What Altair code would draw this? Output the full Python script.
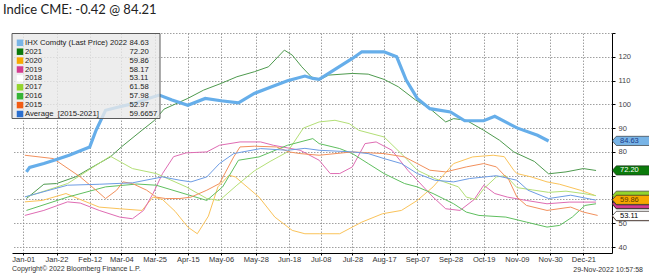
import altair as alt
import pandas as pd

TITLE = "Indice CME: -0.42 @ 84.21"
FOOTER = "Copyright\u00a9 2022 Bloomberg Finance L.P."
STAMP = "29-Nov-2022 10:57:58"

X_TICKS = ["Jan-01", "Jan-22", "Feb-12", "Mar-04", "Mar-25", "Apr-15", "May-06", "May-28",
           "Jun-18", "Jul-08", "Jul-28", "Aug-17", "Sep-07", "Sep-28", "Oct-19", "Nov-09",
           "Nov-30", "Dec-21"]
Y_TICKS = [40, 50, 60, 70, 80, 90, 100, 110, 120, 130]

D2022 = ["Jan-03", "Jan-05", "Jan-14", "Jan-22", "Jan-30", "Feb-12", "Feb-16", "Feb-22",
         "Mar-01", "Mar-12", "Mar-21", "Mar-28", "Apr-05", "Apr-15", "Apr-26", "May-06",
         "May-17", "May-27", "Jun-07", "Jun-17", "Jun-28", "Jul-03", "Jul-07", "Jul-13",
         "Jul-28", "Aug-03", "Aug-17", "Aug-25", "Aug-31", "Sep-07", "Sep-15", "Sep-28",
         "Oct-07", "Oct-19", "Oct-26", "Nov-09", "Nov-22", "Nov-29"]
S2022 = [71.6, 73.5, 75.1, 76.8, 78.6, 82.1, 89.1, 97.5, 98.7, 100.4, 102.5, 103.9, 101.8,
         99.6, 102.5, 101.5, 100.6, 104.6, 107.4, 109.9, 111.9, 110.9, 110.5, 113.0, 119.3,
         122.1, 122.1, 120.0, 110.2, 102.5, 98.2, 96.8, 93.1, 93.1, 95.0, 90.1, 87.0, 84.6]

D2021 = ["Jan-03", "Jan-14", "Jan-22", "Feb-03", "Feb-12", "Feb-25", "Mar-04", "Mar-17",
         "Mar-25", "Mar-31", "Apr-15", "Apr-25", "May-06", "May-16", "May-27", "Jun-05",
         "Jun-11", "Jun-15", "Jun-20", "Jun-26", "Jul-02", "Jul-07", "Jul-13", "Jul-28",
         "Aug-07", "Aug-17", "Aug-26", "Sep-06", "Sep-15", "Sep-25", "Sep-30", "Oct-08",
         "Oct-19", "Oct-29", "Nov-07", "Nov-20", "Nov-29", "Dec-10", "Dec-21", "Dec-29"]
S2021 = [60.4, 66.4, 66.7, 69.5, 73.0, 77.9, 82.1, 89.1, 93.3, 98.0, 102.5, 106.0, 108.8,
         111.6, 113.7, 115.8, 120.0, 122.8, 120.7, 115.8, 111.6, 110.2, 112.3, 113.0, 112.7,
         110.5, 107.4, 101.8, 98.2, 92.6, 94.0, 93.3, 89.1, 84.9, 80.0, 76.0, 70.8, 71.6,
         73.0, 72.2]

D2020 = ["Jan-02", "Jan-13", "Jan-28", "Feb-06", "Feb-18", "Mar-03", "Mar-17", "Mar-24",
         "Mar-30", "Apr-07", "Apr-15", "Apr-21", "Apr-28", "May-04", "May-11", "May-15",
         "May-30", "Jun-09", "Jun-20", "Jun-28", "Jul-07", "Jul-20", "Jul-28", "Aug-03",
         "Aug-16", "Aug-28", "Sep-07", "Sep-17", "Sep-30", "Oct-12", "Oct-25", "Nov-01",
         "Nov-07", "Nov-09", "Nov-18", "Nov-28", "Dec-06", "Dec-19", "Dec-28"]
S2020 = [59.0, 59.6, 62.5, 60.0, 56.8, 56.1, 55.4, 61.0, 60.0, 55.0, 48.4, 45.6, 53.0, 65.3,
         70.2, 69.5, 61.0, 52.6, 47.0, 45.6, 45.6, 45.6, 48.4, 50.5, 54.0, 55.4, 59.6, 65.3,
         75.1, 77.9, 78.6, 78.0, 72.3, 70.9, 69.5, 67.4, 66.4, 63.9, 61.8]

D2019 = ["Jan-02", "Jan-14", "Jan-29", "Feb-06", "Feb-18", "Mar-03", "Mar-11", "Mar-18",
         "Mar-24", "Mar-30", "Apr-06", "Apr-14", "Apr-27", "May-05", "May-18", "May-31",
         "Jun-08", "Jun-25", "Jul-07", "Jul-14", "Jul-20", "Jul-28", "Aug-05", "Aug-12",
         "Aug-22", "Sep-01", "Sep-07", "Sep-17", "Sep-25", "Oct-04", "Oct-13", "Oct-19",
         "Oct-26", "Nov-03", "Nov-15", "Nov-28", "Dec-12", "Dec-29"]
S2019 = [53.3, 55.4, 59.0, 58.5, 55.4, 52.6, 51.9, 55.4, 62.5, 70.9, 78.0, 79.6, 80.0, 82.8,
         84.2, 84.2, 82.8, 80.7, 76.5, 70.9, 70.9, 73.7, 83.5, 84.2, 80.7, 72.3, 68.1, 61.0,
         56.1, 55.4, 60.0, 66.0, 62.5, 61.0, 59.6, 58.2, 58.9, 58.9]

D2017 = ["Jan-03", "Jan-29", "Feb-25", "Mar-11", "Mar-26", "Apr-14", "Apr-27", "May-05",
         "May-16", "May-27", "Jun-06", "Jun-17", "Jun-27", "Jul-07", "Jul-17", "Jul-26",
         "Aug-01", "Aug-17", "Aug-30", "Sep-07", "Sep-18", "Oct-03", "Oct-08", "Oct-14",
         "Oct-19", "Oct-27", "Nov-02", "Nov-09", "Nov-19", "Nov-29", "Dec-10", "Dec-21",
         "Dec-29"]
S2017 = [61.1, 66.7, 78.2, 73.0, 70.9, 65.3, 60.4, 59.6, 66.0, 72.0, 76.0, 80.0, 90.0, 92.6,
         93.3, 91.9, 89.1, 86.3, 77.9, 72.3, 68.8, 65.3, 61.0, 60.0, 64.5, 69.5, 70.0, 65.0,
         64.0, 63.0, 63.5, 62.5, 61.6]

D2016 = ["Jan-03", "Jan-29", "Feb-22", "Mar-14", "Mar-26", "Apr-15", "Apr-27", "May-07",
         "May-17", "May-30", "Jun-17", "Jul-03", "Jul-07", "Jul-20", "Jul-28", "Aug-07",
         "Aug-17", "Aug-30", "Sep-07", "Sep-17", "Sep-30", "Oct-08", "Oct-16", "Nov-02",
         "Nov-15", "Nov-28", "Dec-06", "Dec-14", "Dec-22", "Dec-29"]
S2016 = [55.4, 61.0, 65.3, 66.5, 66.0, 62.0, 59.6, 65.3, 76.5, 77.9, 82.8, 85.6, 83.5, 81.4,
         79.3, 75.1, 70.9, 66.7, 65.3, 62.5, 58.2, 54.7, 53.3, 52.6, 50.5, 48.4, 49.1, 52.6,
         57.5, 58.2]

D2015 = ["Jan-02", "Jan-20", "Feb-06", "Feb-16", "Feb-22", "Mar-01", "Mar-05", "Mar-11",
         "Mar-20", "Mar-26", "Apr-01", "Apr-10", "Apr-17", "Apr-27", "May-05", "May-14",
         "May-18", "May-27", "Jun-10", "Jun-18", "Jun-25", "Jul-07", "Jul-28", "Aug-17",
         "Aug-30", "Sep-07", "Sep-15", "Sep-25", "Oct-08", "Oct-19", "Oct-27", "Nov-04",
         "Nov-09", "Nov-15", "Nov-28", "Dec-13", "Dec-21", "Dec-30"]
S2015 = [78.6, 77.2, 69.5, 63.9, 60.4, 63.9, 67.4, 66.7, 63.9, 61.0, 60.4, 60.4, 61.0, 63.9,
         66.7, 77.9, 82.1, 82.4, 82.1, 80.0, 79.3, 78.6, 80.0, 79.3, 77.9, 75.1, 72.3, 71.6,
         73.7, 75.1, 73.7, 68.1, 61.0, 57.5, 55.4, 56.8, 54.7, 53.3]

DAVG = ["Jan-02", "Jan-29", "Feb-18", "Mar-11", "Mar-30", "Apr-10", "Apr-17", "Apr-27",
        "May-05", "May-14", "May-31", "Jun-17", "Jun-28", "Jul-07", "Jul-28", "Aug-07",
        "Aug-17", "Aug-28", "Sep-07", "Sep-18", "Sep-30", "Oct-10", "Oct-20", "Oct-27",
        "Nov-09", "Nov-16", "Nov-29", "Dec-13", "Dec-29"]
SAVG = [61.1, 66.0, 66.4, 67.0, 69.5, 68.1, 67.4, 69.5, 75.1, 79.3, 81.4, 80.7, 81.5, 80.7,
        80.0, 79.3, 77.2, 75.1, 70.9, 68.1, 67.4, 68.8, 69.5, 70.0, 68.1, 63.9, 60.4, 61.8,
        59.7]

KEYS = ["2022", "2021", "2020", "2019", "2018", "2017", "2016", "2015", "Average"]
LEGEND_LABELS = ["IHX Comdty (Last Price) 2022", "2021", "2020", "2019", "2018", "2017",
                 "2016", "2015", "Average\u00a0\u00a0[2015-2021]"]
LEGEND_VALUES = ["84.63", "72.20", "59.86", "58.17", "53.11", "61.58", "57.98", "52.97", "59.6657"]

FILL_COLORS = ["#78b4e6", "#0b7a0b", "#f7a800", "#d43c90", "#ffffff", "#93d42d", "#36b436",
               "#f25c14", "#2b6fcf"]
LINE_COLORS = ["#66aeea", "#4e9a4e", "#fac35a", "#df6cb3", "#ffffff", "#b3df76", "#5fbf5f",
               "#f2905c", "#6d9ce4"]

SERIES = {"2021": (D2021, S2021), "2020": (D2020, S2020), "2019": (D2019, S2019),
          "2017": (D2017, S2017), "2016": (D2016, S2016), "2015": (D2015, S2015),
          "Average": (DAVG, SAVG), "2022": (D2022, S2022)}


def to_date(s):
    return pd.to_datetime("2022-" + s, format="%Y-%b-%d").strftime("%Y-%m-%dT00:00:00")


rows = []
for key, (dates, vals) in SERIES.items():
    for d, v in zip(dates, vals):
        rows.append({"date": to_date(d), "value": v, "key": key})
df = pd.DataFrame(rows)

W, H = 600, 220
FONT = "Liberation Sans"

xscale = alt.Scale(domain=[alt.DateTime(year=2021, month=12, date=24, hours=21),
                           alt.DateTime(year=2023, month=1, date=8, hours=2)])
yscale = alt.Scale(domain=[37.5, 130], nice=False, zero=False)
stroke_scale = alt.Scale(domain=KEYS, range=LINE_COLORS)
fill_scale = alt.Scale(domain=KEYS, range=FILL_COLORS)

tick_dates = [alt.DateTime(year=2022, month=t.split("-")[0], date=int(t.split("-")[1]))
              for t in X_TICKS]

xaxis = alt.Axis(values=tick_dates, format="%b-%d", labelFontSize=7.5, labelColor="#333",
                 labelFont=FONT, tickSize=2, tickColor="#000", domainColor="#000",
                 grid=True, gridColor="#888", gridDash=[1.5, 1.5], gridWidth=0.8,
                 labelPadding=0, title=None, labelFlush=False, labelOverlap=False)
yaxis = alt.Axis(orient="right", values=Y_TICKS,
                 labelExpr="(datum.value == 130 || datum.value == 60 || datum.value == 70) ? '' : datum.label",
                 labelFontSize=7.5, labelColor="#444", labelFont=FONT, tickSize=3,
                 tickColor="#000", domainColor="#000", grid=True, gridColor="#888",
                 gridDash=[1.5, 1.5], gridWidth=0.8, labelPadding=3, title=None)

X = alt.X("date:T", scale=xscale, axis=xaxis)

others = alt.Chart(df[df.key != "2022"]).mark_line(strokeWidth=1).encode(
    x=X,
    y=alt.Y("value:Q", scale=yscale, axis=yaxis),
    stroke=alt.Stroke("key:N", scale=stroke_scale, legend=None),
    detail="key:N",
)
main = alt.Chart(df[df.key == "2022"]).mark_line(strokeWidth=3.2).encode(
    x=X,
    y=alt.Y("value:Q", scale=yscale, axis=None),
    stroke=alt.Stroke("key:N", scale=stroke_scale, legend=None),
)

# legend box
box = alt.Chart(pd.DataFrame({"a": [0]})).mark_rect(
    fill="#e9e9e9", fillOpacity=0.8, stroke="#5a5a5a", strokeWidth=1
).encode(x=alt.value(0), x2=alt.value(148), y=alt.value(0.5), y2=alt.value(85.5))

leg = pd.DataFrame({"key": KEYS, "label": LEGEND_LABELS, "val": LEGEND_VALUES})
ly = alt.Y("key:N", scale=alt.Scale(type="point", domain=KEYS, range=[9.8, 81], padding=0),
           axis=None)
swatch = alt.Chart(leg).mark_point(shape="square", filled=True, size=42, opacity=1).encode(
    x=alt.value(8), y=ly, fill=alt.Fill("key:N", scale=fill_scale, legend=None))
ltext = alt.Chart(leg).mark_text(align="left", baseline="middle", fontSize=7.7, font=FONT,
                                 color="#222").encode(x=alt.value(13), y=ly, text="label:N")
lval = alt.Chart(leg).mark_text(align="left", baseline="middle", fontSize=7.7, font=FONT,
                                color="#222").encode(x=alt.value(117.5), y=ly, text="val:N")

# right-hand value tags
TAG_ORDER = ["2017", "2016", "2019", "Average", "2015", "2020", "2018", "2021", "2022"]
TAG_TEXT = {"2022": "#1b3a8a", "2021": "#ffffff", "2020": "#5a3c00", "2018": "#000000"}
tags = pd.DataFrame({
    "key": TAG_ORDER,
    "value": [float(LEGEND_VALUES[KEYS.index(k)]) for k in TAG_ORDER],
    "txt": [LEGEND_VALUES[KEYS.index(k)] for k in TAG_ORDER],
    "ord": list(range(len(TAG_ORDER))),
})
TAG_PATH = "M-1,0 L-0.8,-0.23 L1,-0.23 L1,0.23 L-0.8,0.23 Z"
tagmark = alt.Chart(tags).mark_point(shape=TAG_PATH, filled=True, size=1600, opacity=1,
                                     stroke="#222", strokeWidth=0.6).encode(
    x=alt.value(W + 20.3),
    y=alt.Y("value:Q", scale=yscale, axis=None),
    fill=alt.Fill("key:N", scale=fill_scale, legend=None),
    order="ord:Q",
)
tagtext_df = tags[tags.key.isin(list(TAG_TEXT.keys()))].copy()
tagtext_df["tc"] = [TAG_TEXT[k] for k in tagtext_df.key]
tagtext = alt.Chart(tagtext_df).mark_text(align="left", baseline="middle", fontSize=7.5,
                                          font=FONT).encode(
    x=alt.value(W + 8),
    y=alt.Y("value:Q", scale=yscale, axis=None),
    text="txt:N",
    color=alt.Color("tc:N", scale=None),
)

title = alt.Chart(pd.DataFrame({"t": [TITLE]})).mark_text(
    align="left", baseline="middle", fontSize=13, font="Lato", color="#222"
).encode(x=alt.value(-9), y=alt.value(-23.5), text="t:N")
footer = alt.Chart(pd.DataFrame({"t": [FOOTER]})).mark_text(
    align="left", baseline="middle", fontSize=7, font=FONT, color="#333"
).encode(x=alt.value(0), y=alt.value(236), text="t:N")
stamp = alt.Chart(pd.DataFrame({"t": [STAMP]})).mark_text(
    align="right", baseline="middle", fontSize=7, font=FONT, color="#333"
).encode(x=alt.value(631), y=alt.value(237), text="t:N")

chart = alt.layer(
    others, main, box, swatch, ltext, lval, tagmark, tagtext, title, footer, stamp
).resolve_scale(y="independent").properties(
    width=W, height=H,
    padding={"left": 12, "top": 33, "right": 37, "bottom": 26},
    autosize=alt.AutoSizeParams(type="none"),
).configure_view(stroke=None)

chart.save("out.html", embed_options={"renderer": "svg", "actions": False})
